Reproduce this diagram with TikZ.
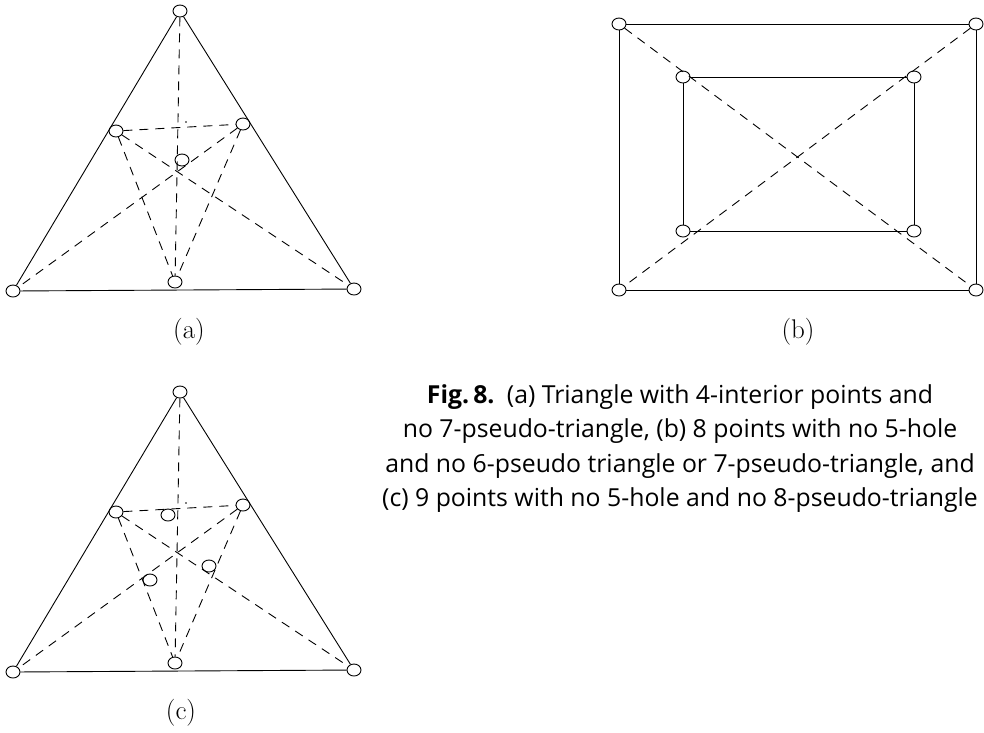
\documentclass[tikz,border=0pt]{standalone}
\usepackage{fontspec}
\newfontfamily\capfont{Open Sans}
\usepackage{tikz}
\usetikzlibrary{shapes.geometric}

\begin{document}
\begin{tikzpicture}[x=1pt,y=-1pt,line width=0.9pt,
  pt/.style={ellipse,draw,fill=white,inner sep=0pt,minimum width=14pt,minimum height=12pt},
  speck/.style={circle,fill=black,inner sep=0.6pt},
  dsh/.style={dash pattern=on 9pt off 7pt},
  lab/.style={font=\fontsize{27}{32}\selectfont}]
\useasboundingbox (0,0) rectangle (984,732);
% --- (a) triangle, 4 interior points ---
\begin{scope}[shift={(0,0)}]
  \foreach \x/\y/\n in {180/11/T,13/291/BL,354/289/BR,116/131/L,243/124/R,182/160/M,175/282/B}
    {\node[pt] (a\n) at (\x,\y) {};}
  \node[speck] (adot) at (186,122) {};
  \draw (aT) -- (aBL) -- (aBR) -- (aT);
  \draw[dsh] (aT) -- (aB);
  \draw[dsh] (aL) -- (aR);
  \draw[dsh] (aL) -- (aBR);
  \draw[dsh] (aR) -- (aBL);
  \draw[dsh] (aL) -- (aB);
  \draw[dsh] (aR) -- (aB);
  \node[lab] (alab) at (189,332) {(a)};
\end{scope}
% --- (b) nested rectangles ---
\begin{scope}[shift={(0,0)}]
  \foreach \x/\y/\n in {619/24/O1,976/24/O2,976/290/O3,619/290/O4,683/77/I1,914/77/I2,914/231/I3,683/231/I4}
    {\node[pt] (b\n) at (\x,\y) {};}
  \draw (bO1) -- (bO2) -- (bO3) -- (bO4) -- (bO1);
  \draw (bI1) -- (bI2) -- (bI3) -- (bI4) -- (bI1);
  \draw[dsh] (bO1) -- (bO3);
  \draw[dsh] (bO2) -- (bO4);
  \node[lab] (blab) at (798,332) {(b)};
\end{scope}
% --- (c) triangle, 9 points ---
\begin{scope}[shift={(0,381)}]
  \foreach \x/\y/\n in {180/11/T,13/291/BL,354/289/BR,116/131/L,243/124/R,168/134/P,150/199/Q,209/185/S,175/282/B}
    {\node[pt] (c\n) at (\x,\y) {};}
  \node[speck] (cdot) at (186,122) {};
  \draw (cT) -- (cBL) -- (cBR) -- (cT);
  \draw[dsh] (cT) -- (cB);
  \draw[dsh] (cL) -- (cR);
  \draw[dsh] (cL) -- (cBR);
  \draw[dsh] (cR) -- (cBL);
  \draw[dsh] (cL) -- (cB);
  \draw[dsh] (cR) -- (cB);
  \node[lab] (clab) at (181,332) {(c)};
\end{scope}
% caption
\node[anchor=north,align=center,inner sep=0pt,
  font=\capfont\fontsize{24.8}{34.5}\selectfont] (cap) at (680,384)
  {\textbf{Fig.\,8.}\enspace(a) Triangle with 4-interior points and\\
   no 7-pseudo-triangle, (b) 8 points with no 5-hole\\
   and no 6-pseudo triangle or 7-pseudo-triangle, and\\
   (c) 9 points with no 5-hole and no 8-pseudo-triangle};
\end{tikzpicture}
\end{document}
